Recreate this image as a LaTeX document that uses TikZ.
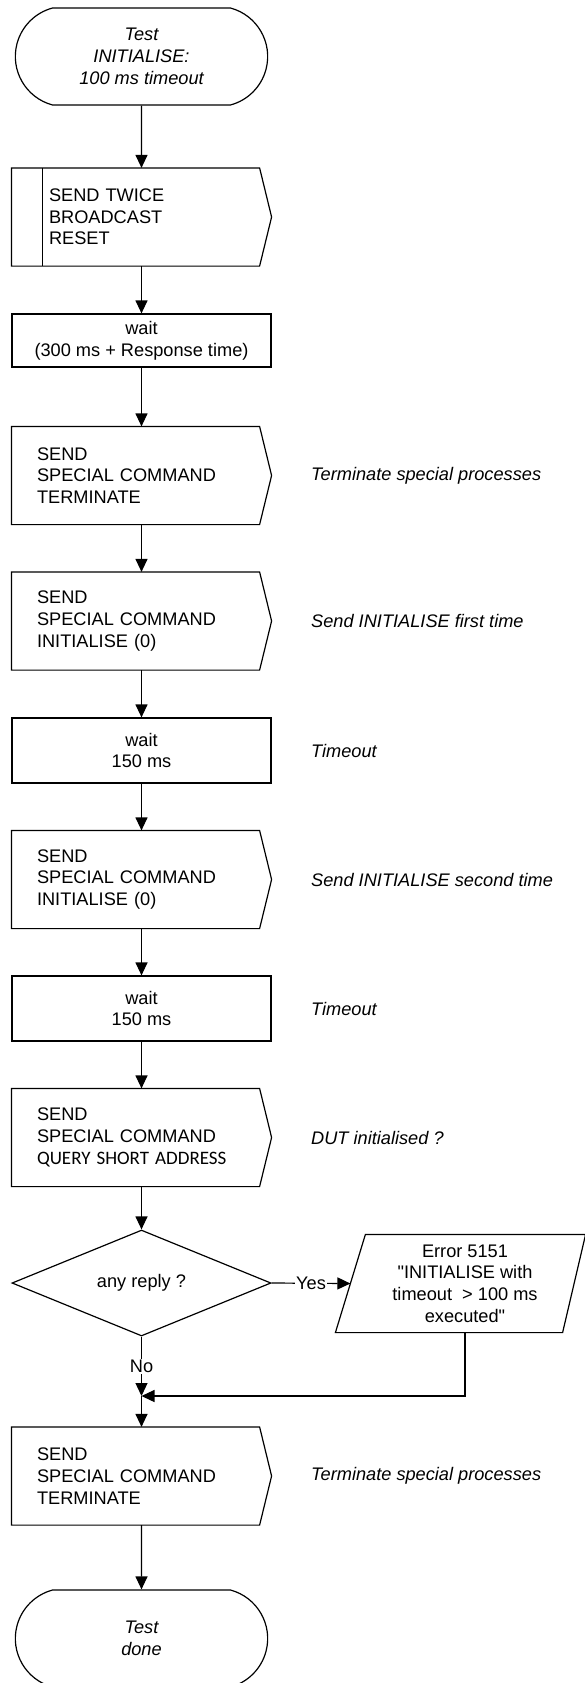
\documentclass[tikz,border=0pt]{standalone}
\usepackage{fontspec}
\setmainfont{Liberation Sans}[Ligatures=TeXOff]
\newfontfamily\qsafont{Carlito}
\usepackage{tikz}
\usetikzlibrary{arrows, arrows.meta, positioning, calc, shapes.geometric, shapes.misc}
\newcommand{\bodyfont}{\fontsize{18.2}{21.7}\selectfont}

\tikzset{
  term/.style={draw, rounded rectangle, rounded rectangle arc length=150, minimum width=259pt, minimum height=97pt, align=center, font=\bodyfont\itshape},
  sendbox/.style={rectangle, minimum width=259pt, minimum height=97pt, text width=209pt, align=left, inner sep=0pt},
  waitbox/.style={draw, rectangle, minimum width=259pt, minimum height=#1, align=center, inner sep=0pt},
  waitbox/.default=65pt,
  note/.style={font=\bodyfont\itshape, inner sep=0pt},
  yesno/.style={fill=white, inner sep=1pt}
}

\begin{document}
\begin{tikzpicture}[x={(1pt,0pt)}, y={(0pt,-1pt)}, font=\bodyfont, line width=1.2pt, >={Triangle[length=13pt, width=12pt]}]
\useasboundingbox (0,0) rectangle (585,1683);

% Ablauf
\node[term] (start) at (141.5,56.5) {Test\\INITIALISE:\\100 ms timeout};
\node[sendbox, text width=185pt] (twice) at (141.5,217) {SEND TWICE\\BROADCAST\\RESET};
\node[waitbox=53pt] (wait1) at (141.5,340.5) {wait\\(300 ms + Response time)};
\node[sendbox] (term1) at (141.5,475.5) {SEND\\SPECIAL COMMAND\\TERMINATE};
\node[sendbox] (init1) at (141.5,621) {SEND\\SPECIAL COMMAND\\INITIALISE (0)};
\node[waitbox] (wait2) at (141.5,750.5) {wait\\150 ms};
\node[sendbox] (init2) at (141.5,879.5) {SEND\\SPECIAL COMMAND\\INITIALISE (0)};
\node[waitbox] (wait3) at (141.5,1008.5) {wait\\150 ms};
\node[sendbox] (query) at (141.5,1137.5) {SEND\\SPECIAL COMMAND\\{\qsafont\fontsize{19}{21.7}\selectfont QUERY SHORT ADDRESS}};
\node[draw, diamond, minimum width=259pt, minimum height=96pt, inner sep=0pt] (reply) at (141.5,1283) {any reply ?};
\node[rectangle, minimum width=258pt, minimum height=97pt, align=center, inner sep=0pt] (error) at (465,1283.5) {Error 5151\\"INITIALISE with\\timeout\ \ > 100 ms\\executed"};
\coordinate (merge) at (141.5,1396);
\node[sendbox] (term2) at (141.5,1476) {SEND\\SPECIAL COMMAND\\TERMINATE};
\node[term] (done) at (141.5,1638.5) {Test\\done};

% Umrisse
\foreach \n in {twice, term1, init1, init2, query, term2}
  \draw (\n.north west) -- ([xshift=-12pt]\n.north east) -- (\n.east) -- ([xshift=-12pt]\n.south east) -- (\n.south west) -- cycle;
\draw ([xshift=31pt]twice.north west) -- ([xshift=31pt]twice.south west);
\draw (error.south west) -- ([xshift=30pt]error.north west) -- ([xshift=-9pt]error.north east) -- ([xshift=-32pt]error.south east) -- cycle;

% Kommentare
\node[note, right=39pt of term1] (c1) {Terminate special processes};
\node[note, right=39pt of init1] (c2) {Send INITIALISE first time};
\node[note, right=39pt of wait2] (c3) {Timeout};
\node[note, right=39pt of init2] (c4) {Send INITIALISE second time};
\node[note, right=39pt of wait3] (c5) {Timeout};
\node[note, right=39pt of query] (c6) {DUT initialised ?};
\node[note, right=39pt of term2] (c7) {Terminate special processes};

% Pfeile
\draw[->] (start) -- (twice);
\draw[->] (twice) -- (wait1);
\draw[->] (wait1) -- (term1);
\draw[->] (term1) -- (init1);
\draw[->] (init1) -- (wait2);
\draw[->] (wait2) -- (init2);
\draw[->] (init2) -- (wait3);
\draw[->] (wait3) -- (query);
\draw[->] (query) -- (reply);
\draw[->] (reply.east) -- node[yesno] {Yes} ([xshift=15pt]error.west);
\draw[->] (reply.south) -- node[yesno] {No} (merge);
\draw[->] (error.south) |- (merge);
\draw[->] (merge) -- (term2);
\draw[->] (term2) -- (done);

\end{tikzpicture}
\end{document}
